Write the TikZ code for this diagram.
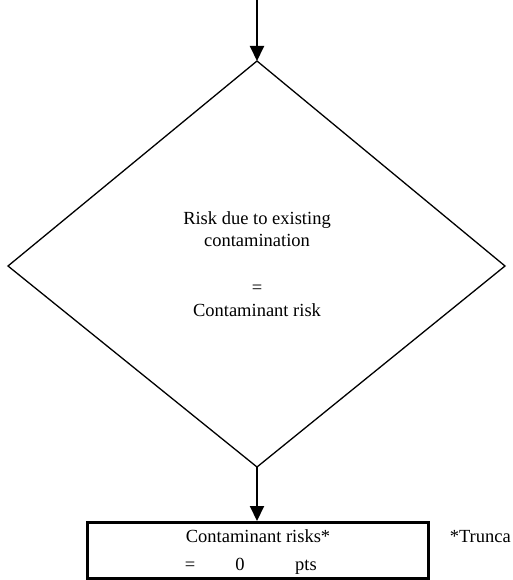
\documentclass[tikz,border=0pt]{standalone}
\usepackage{fontspec}
\setmainfont{Liberation Serif}
\usetikzlibrary{arrows.meta,shapes.geometric}
\begin{document}
\begin{tikzpicture}[x=1pt,y=-1pt,
  flow/.style={line width=2pt,-{Triangle[length=15pt,width=14pt]}},
  txt/.style={font=\fontsize{18.5}{22}\selectfont,inner sep=0pt,anchor=base}]
\useasboundingbox (0,0) rectangle (513,580);
\clip (0,0) rectangle (513,580);
% decision diamond
\coordinate (dtop) at (257,61);
\coordinate (dleft) at (8,266);
\coordinate (dright) at (505,266);
\coordinate (dbot) at (257,467);
\draw[line width=1.3pt,line join=miter] (dtop) -- (dright) -- (dbot) -- (dleft) -- cycle;
\node[txt] (t1) at (257,224) {Risk due to existing};
\node[txt] (t2) at (257,246) {contamination};
\node[txt] (t3) at (257,293) {=};
\node[txt] (t4) at (257,316) {Contaminant risk};
% incoming arrow
\coordinate (in) at (257,0);
\draw[flow] (in) -- (dtop);
% result box
\node[draw,line width=3pt,minimum width=341pt,minimum height=56pt,inner sep=0pt] (box) at (258,550.5) {};
\draw[flow] (dbot) -- (box.north -| dbot);
\node[txt] (r1) at (258,542) {Contaminant risks*};
\node[txt] (r2) at (190,570) {=};
\node[txt] (r3) at (240,570) {0};
\node[txt] (r4) at (306,570) {pts};
% side note beside the box
\node[txt,anchor=base east] (note) at (511,542) {*Trunca};
\end{tikzpicture}
\end{document}
